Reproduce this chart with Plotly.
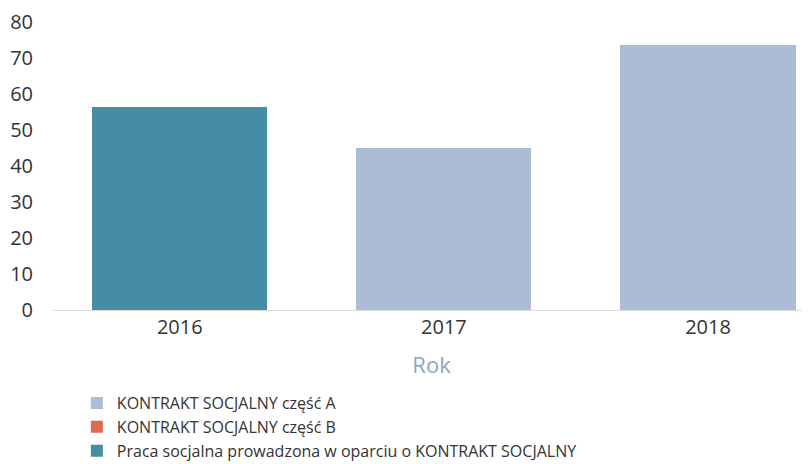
import plotly.graph_objects as go

years = ["2016", "2017", "2018"]
kontrakt_a = [None, 45, 73.7]
kontrakt_b = [None, None, None]
praca = [56.3, None, None]
y_ticks = [0, 10, 20, 30, 40, 50, 60, 70, 80]

fig = go.Figure()
fig.add_bar(x=years, y=kontrakt_a, name="KONTRAKT SOCJALNY część A",
            marker=dict(color="#aabdd4", line=dict(width=0)))
fig.add_bar(x=years, y=kontrakt_b, name="KONTRAKT SOCJALNY część B",
            marker=dict(color="#e0694f", line=dict(width=0)))
fig.add_bar(x=years, y=praca, name="Praca socjalna prowadzona w oparciu o KONTRAKT SOCJALNY",
            marker=dict(color="#468ca2", line=dict(width=0)))

fig.update_layout(
    width=810, height=464,
    barmode="stack",
    bargap=0.337,
    paper_bgcolor="white", plot_bgcolor="white",
    margin=dict(l=45, r=8, t=14, b=162, autoexpand=False),
    font=dict(family="Open Sans", size=17, color="#333333"),
    showlegend=True,
    legend=dict(orientation="v", xref="container", yref="container",
                x=0.085, xanchor="left", y=0.185, yanchor="top",
                font=dict(size=16, color="#333333"), traceorder="normal",
                itemwidth=30, tracegroupgap=0, bgcolor="rgba(0,0,0,0)"),
    xaxis=dict(type="category", range=[-0.48, 2.386], showgrid=False, showline=False, ticks="",
               automargin=False, ticklabelstandoff=3,
               title=dict(text="Rok", font=dict(color="#8ea5c0", size=22), standoff=18),
               tickfont=dict(size=20, color="#333333")),
    yaxis=dict(range=[0, 80], tickvals=y_ticks, showgrid=False, zeroline=True,
               zerolinecolor="#dddddd", zerolinewidth=1, showline=False, automargin=False,
               tickfont=dict(size=20, color="#333333"), ticklabelstandoff=19),
)

fig.write_html("out.html")
